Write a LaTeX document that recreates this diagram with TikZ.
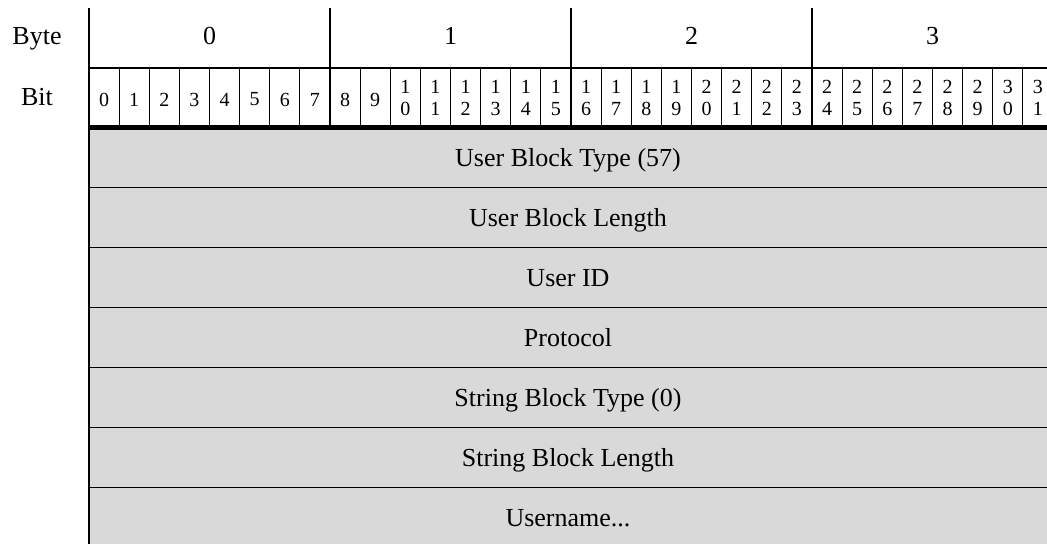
\documentclass[tikz,border=0pt]{standalone}
\usepackage{fontspec}
\setmainfont{Liberation Serif}
\definecolor{fieldgray}{HTML}{D9D9D9}
\begin{document}
\begin{tikzpicture}[
        x=0.75pt, y=-0.75pt,
        head_text/.style={font=\fontsize{19.5}{23}\selectfont, anchor=base, inner sep=0pt},
        bit_text/.style={font=\fontsize{15}{16.5}\selectfont, align=center, inner sep=0pt},
        field_text/.style={font=\fontsize{19.5}{23}\selectfont, anchor=base, inner sep=0pt},
        byte_line/.style={line width=1.5pt},
        bit_line/.style={line width=0.75pt},
        row_line/.style={line width=1pt},
        head_rule/.style={line width=3.75pt}
    ]
    \useasboundingbox (0,0) rectangle (1047,544);

    % Pole zprávy - šedé řádky
    \fill[fieldgray] (89,127.5) rectangle (1047,544);
    \foreach \k in {1,...,6}
        \draw[row_line] (89,127.5+60*\k) -- (1047,127.5+60*\k);

    % Bity - oddělovače
    \foreach \i in {1,...,31}
        \draw[bit_line] (89+30.125*\i,68) -- (89+30.125*\i,127.5);
    % Bajty - oddělovače
    \foreach \b in {1,2,3}
        \draw[byte_line] (89+241*\b,8) -- (89+241*\b,127.5);
    \draw[byte_line] (89,68) -- (1047,68);
    \draw[byte_line] (89,8) -- (89,544);
    \draw[head_rule] (89,127.5) -- (1047,127.5);

    % Popisky řádků
    \node[head_text] (byte_label) at (37,44) {Byte};
    \node[head_text] (bit_label) at (37,105) {Bit};

    % Čísla bajtů
    \foreach \b in {0,...,3}
        \node[head_text] (byte\b) at (209.5+241*\b,44) {\b};

    % Čísla bitů
    \foreach \i in {0,...,31} {
        \pgfmathtruncatemacro{\tens}{div(\i,10)}
        \pgfmathtruncatemacro{\ones}{mod(\i,10)}
        \ifnum\i<10
            \node[bit_text] (bit\i) at (104.06+30.125*\i,99.5) {\i};
        \else
            \node[bit_text] (bit\i) at (104.06+30.125*\i,97.5) {\tens\\\ones};
        \fi
    }

    % Pole
    \foreach \name [count=\k from 0] in {User Block Type (57), User Block Length, User ID, Protocol, String Block Type (0), String Block Length}
        \node[field_text] (field\k) at (568,166+60*\k) {\name};
    \node[field_text] (field6) at (568,526) {Username...};
\end{tikzpicture}
\end{document}
